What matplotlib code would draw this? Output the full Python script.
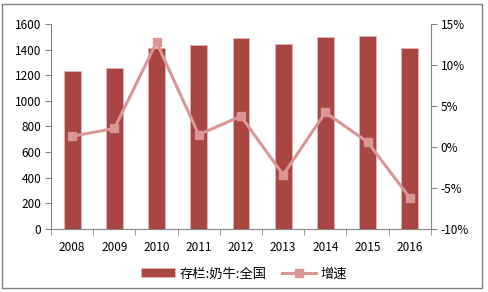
import matplotlib.pyplot as plt
from matplotlib.patches import Rectangle
from matplotlib.ticker import FuncFormatter

plt.rcParams['font.family'] = ['Noto Sans CJK SC', 'DejaVu Sans']

years = ['2008', '2009', '2010', '2011', '2012', '2013', '2014', '2015', '2016']
stock = [1234, 1255, 1416, 1432, 1487, 1443, 1495, 1503, 1409]
growth = [1.3, 2.25, 12.75, 1.5, 3.75, -3.4, 4.2, 0.6, -6.2]

bar_color = '#A94543'
line_color = '#D99694'
axis_color = '#868686'

fig = plt.figure(figsize=(4.88, 2.92), dpi=100)
fig.patches.append(Rectangle((0.004, 0.015), 0.984, 0.972, transform=fig.transFigure,
                             fill=False, edgecolor='#7f7f7f', linewidth=1))

ax = fig.add_axes([0.1045, 0.216, 0.7785, 0.702])
x = list(range(len(years)))
b = ax.bar(x, stock, width=0.4, color=bar_color, edgecolor='#E6B9B8', linewidth=0.5,
           label='存栏:奶牛:全国', zorder=2)
ax.set_ylim(0, 1600)
ax.set_yticks(range(0, 1601, 200))
ax.set_xlim(-0.5, len(years) - 0.5)
ax.set_xticks(x)
ax.set_xticklabels(years)
ax.set_xticks([i - 0.5 for i in range(len(years) + 1)], minor=True)
ax.tick_params(axis='x', which='major', length=0, pad=9)
ax.tick_params(axis='x', which='minor', length=4, color=axis_color)
ax.tick_params(axis='y', length=4, color=axis_color, pad=3)
ax.tick_params(labelsize=8.5, labelcolor='#000000')
for s in ['top', 'right']:
    ax.spines[s].set_visible(False)
for s in ['left', 'bottom']:
    ax.spines[s].set_color(axis_color)

ax2 = ax.twinx()
ln, = ax2.plot(x, growth, color=line_color, linewidth=2.2, marker='s', markersize=6,
               label='增速', zorder=3)
ax2.set_ylim(-10, 15)
ax2.set_yticks(range(-10, 16, 5))
ax2.yaxis.set_major_formatter(FuncFormatter(lambda v, p: f'{int(v)}%'))
ax2.tick_params(axis='y', length=4, color=axis_color, labelsize=8.5, pad=3)
for s in ['top', 'left', 'bottom']:
    ax2.spines[s].set_visible(False)
ax2.spines['right'].set_color(axis_color)

fig.legend([b, ln], ['存栏:奶牛:全国', '增速'], loc='center', bbox_to_anchor=(0.5, 0.062),
           ncol=2, frameon=False, fontsize=9.5, handlelength=2.6, columnspacing=1.2,
           handletextpad=0.3)

fig.savefig('out.png', dpi=100)
